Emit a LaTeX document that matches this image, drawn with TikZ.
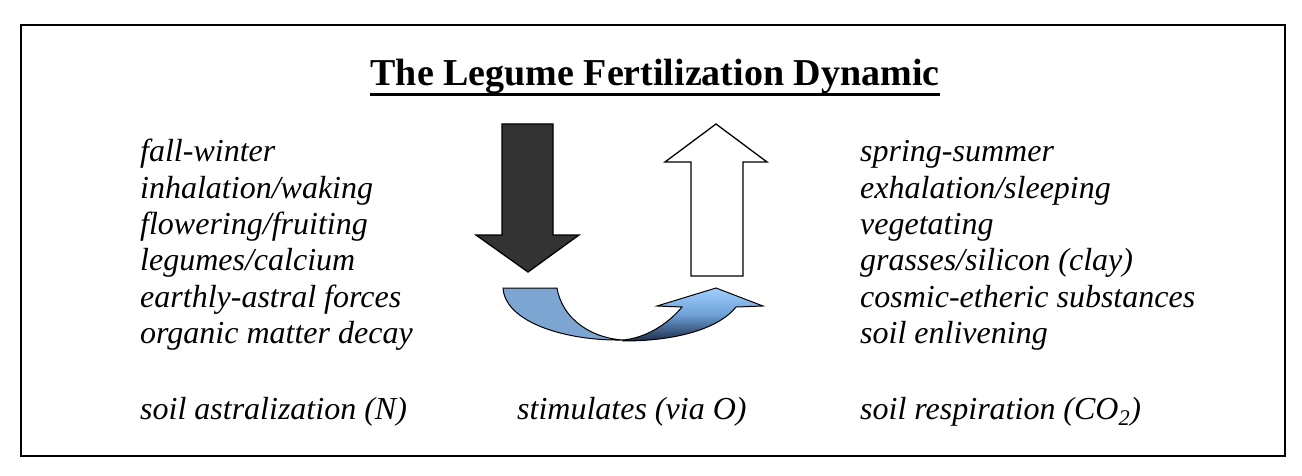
\documentclass[tikz,border=0pt]{standalone}
\usepackage{fontspec}
\setmainfont{Liberation Serif}
\begin{document}
\begin{tikzpicture}[x=1pt,y=-1pt,
  itxt/.style={anchor=base west,inner sep=0pt,font=\fontsize{32}{36}\selectfont\itshape},
  ttl/.style={anchor=base,inner sep=0pt,font=\fontsize{38}{40}\selectfont\bfseries},
  arr/.style={draw=black,line width=1.3pt,line join=miter}]
\useasboundingbox (0,0) rectangle (1302,476);
\draw[line width=2.2pt] (21,25) rectangle (1285,456);
\node[ttl] (title) at (655,86) {The Legume Fertilization Dynamic};
\draw[line width=3pt] ([yshift=-9pt]title.base west) -- ([yshift=-9pt]title.base east);
% left column
\node[itxt] (l1) at (140,162) {fall-winter};
\node[itxt] (l2) at (140,198) {inhalation/waking};
\node[itxt] (l3) at (140,234) {flowering/fruiting};
\node[itxt] (l4) at (140,270) {legumes/calcium};
\node[itxt] (l5) at (140,307) {earthly-astral forces};
\node[itxt] (l6) at (140,343) {organic matter decay};
% right column
\node[itxt] (r1) at (860,162) {spring-summer};
\node[itxt] (r2) at (860,198) {exhalation/sleeping};
\node[itxt] (r3) at (860,234) {vegetating};
\node[itxt] (r4) at (860,270) {grasses/silicon (clay)};
\node[itxt] (r5) at (860,307) {cosmic-etheric substances};
\node[itxt] (r6) at (860,343) {soil enlivening};
% bottom row
\node[itxt] (b1) at (140,419) {soil astralization (N)};
\node[itxt] (b2) at (517,419) {stimulates (via O)};
\node[itxt] (b3) at (860,419) {soil respiration (CO\textsubscript{2})};
% down arrow
\draw[arr,fill=black!80] (502,124) -- (553,124) -- (553,235) -- (579,235) -- (528,272) -- (476,235) -- (502,235) -- cycle;
% up arrow
\draw[arr,fill=white] (691,276) -- (743,276) -- (743,162) -- (767,162) -- (716,124) -- (665,162) -- (691,162) -- cycle;
% curved arrow: left band
\draw[arr,line width=1pt,fill={rgb,255:red,124;green,165;blue,210}]
  (503,288) -- (557,288) .. controls (562,318) and (590,338) .. (623,340)
  .. controls (565,341) and (505,322) .. cycle;
% curved arrow: right band with head
\shade[top color={rgb,255:red,160;green,208;blue,255},bottom color={rgb,255:red,30;green,45;blue,75},middle color={rgb,255:red,110;green,160;blue,215}]
  (623,341) .. controls (685,341) and (722,325) .. (736,307) -- (763,306) -- (716,288) -- (657,306) -- (682,307)
  .. controls (667,325) and (645,338) .. (623,340) -- cycle;
\draw[arr,line width=1pt]
  (623,341) .. controls (685,341) and (722,325) .. (736,307) -- (763,306) -- (716,288) -- (657,306) -- (682,307)
  .. controls (667,325) and (645,338) .. (623,340) -- cycle;
\end{tikzpicture}
\end{document}
